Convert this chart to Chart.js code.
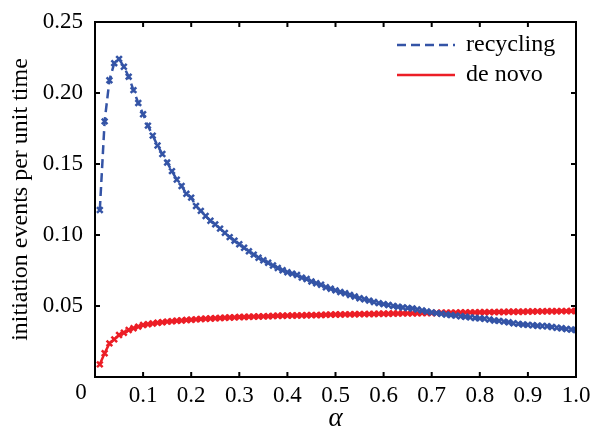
<!DOCTYPE html>
<html>
<head>
<meta charset="utf-8">
<script src="https://cdn.jsdelivr.net/npm/chart.js@4"></script>
<style>
  html, body { margin: 0; padding: 0; background: #fff; }
  #wrap { width: 593px; height: 432px; }
</style>
</head>
<body>
<div id="wrap"><canvas id="myChart" width="593" height="432"></canvas></div>
<script>
// alpha values (x axis)
const alphas = [
  0.01, 0.02, 0.03, 0.04, 0.05, 0.06, 0.07, 0.08, 0.09, 0.10,
  0.11, 0.12, 0.13, 0.14, 0.15, 0.16, 0.17, 0.18, 0.19, 0.20,
  0.21, 0.22, 0.23, 0.24, 0.25, 0.26, 0.27, 0.28, 0.29, 0.30,
  0.31, 0.32, 0.33, 0.34, 0.35, 0.36, 0.37, 0.38, 0.39, 0.40,
  0.41, 0.42, 0.43, 0.44, 0.45, 0.46, 0.47, 0.48, 0.49, 0.50,
  0.51, 0.52, 0.53, 0.54, 0.55, 0.56, 0.57, 0.58, 0.59, 0.60,
  0.61, 0.62, 0.63, 0.64, 0.65, 0.66, 0.67, 0.68, 0.69, 0.70,
  0.71, 0.72, 0.73, 0.74, 0.75, 0.76, 0.77, 0.78, 0.79, 0.80,
  0.81, 0.82, 0.83, 0.84, 0.85, 0.86, 0.87, 0.88, 0.89, 0.90,
  0.91, 0.92, 0.93, 0.94, 0.95, 0.96, 0.97, 0.98, 0.99, 1.00
];

const recycling = [
  0.1176, 0.1800, 0.2090, 0.2210, 0.2240, 0.2185, 0.2115, 0.2020, 0.1930, 0.1850,
  0.1770, 0.1700, 0.1630, 0.1570, 0.1510, 0.1450, 0.1390, 0.1345, 0.1290, 0.1263,
  0.1204, 0.1170, 0.1134, 0.1100, 0.1075, 0.1045, 0.1015, 0.0985, 0.0960, 0.0935,
  0.0910, 0.0885, 0.0862, 0.0840, 0.0822, 0.0805, 0.0785, 0.0768, 0.0752, 0.0738,
  0.0728, 0.0718, 0.0700, 0.0690, 0.0673, 0.0660, 0.0650, 0.0632, 0.0622, 0.0610,
  0.0598, 0.0590, 0.0578, 0.0567, 0.0555, 0.0547, 0.0538, 0.0528, 0.0520, 0.0513,
  0.0507, 0.0500, 0.0495, 0.0490, 0.0486, 0.0483, 0.0475, 0.0468, 0.0461, 0.0455,
  0.0450, 0.0445, 0.0440, 0.0436, 0.0432, 0.0428, 0.0424, 0.0420, 0.0416, 0.0413,
  0.0410, 0.0405, 0.0398, 0.0395, 0.0390, 0.0385, 0.0378, 0.0374, 0.0370, 0.0367,
  0.0364, 0.0361, 0.0359, 0.0357, 0.0352, 0.0347, 0.0343, 0.0338, 0.0334, 0.0331
];

const deNovo = [
  0.0089, 0.0167, 0.0237, 0.0265, 0.0296, 0.0312, 0.0331, 0.0343, 0.0355, 0.0366,
  0.0372, 0.0377, 0.0382, 0.0386, 0.0390, 0.0393, 0.0396, 0.0398, 0.0401, 0.0403,
  0.0406, 0.0408, 0.0410, 0.0412, 0.0414, 0.0415, 0.0417, 0.0419, 0.0420, 0.0422,
  0.0422, 0.0424, 0.0425, 0.0426, 0.0427, 0.0428, 0.0430, 0.0431, 0.0431, 0.0432,
  0.0433, 0.0433, 0.0434, 0.0435, 0.0436, 0.0436, 0.0437, 0.0438, 0.0439, 0.0440,
  0.0440, 0.0441, 0.0441, 0.0442, 0.0443, 0.0443, 0.0444, 0.0444, 0.0445, 0.0446,
  0.0446, 0.0447, 0.0447, 0.0448, 0.0448, 0.0449, 0.0449, 0.0450, 0.0450, 0.0451,
  0.0451, 0.0452, 0.0452, 0.0453, 0.0453, 0.0454, 0.0454, 0.0455, 0.0455, 0.0456,
  0.0456, 0.0457, 0.0457, 0.0458, 0.0458, 0.0459, 0.0459, 0.0460, 0.0460, 0.0461,
  0.0461, 0.0462, 0.0462, 0.0463, 0.0463, 0.0463, 0.0464, 0.0464, 0.0465, 0.0465
];

const seriesNames = ["recycling", "de novo"];
const xTicks = [0, 0.1, 0.2, 0.3, 0.4, 0.5, 0.6, 0.7, 0.8, 0.9, 1.0];
const yTicks = [0, 0.05, 0.10, 0.15, 0.20, 0.25];

const BLUE = "rgb(52, 84, 166)";
const RED = "rgb(236, 30, 38)";
const SERIF = "'Liberation Serif', 'DejaVu Serif', serif";

const toPoints = (ys) => alphas.map((a, i) => ({ x: a, y: ys[i] }));

// box frame, inward ticks, the lone "0" label and the legend
const framePlugin = {
  id: "frame",
  afterDraw(chart) {
    const { ctx, chartArea: a, scales } = chart;
    ctx.save();
    ctx.strokeStyle = "#000";
    ctx.lineWidth = 2;
    ctx.strokeRect(a.left, a.top, a.right - a.left, a.bottom - a.top);

    const tl = 5;
    ctx.beginPath();
    xTicks.forEach((v) => {
      const px = scales.x.getPixelForValue(v);
      ctx.moveTo(px, a.bottom); ctx.lineTo(px, a.bottom - tl);
      ctx.moveTo(px, a.top); ctx.lineTo(px, a.top + tl);
    });
    yTicks.forEach((v) => {
      const py = scales.y.getPixelForValue(v);
      ctx.moveTo(a.left, py); ctx.lineTo(a.left + tl, py);
      ctx.moveTo(a.right, py); ctx.lineTo(a.right - tl, py);
    });
    ctx.stroke();

    ctx.fillStyle = "#000";
    ctx.font = "23px " + SERIF;
    ctx.textAlign = "center";
    ctx.textBaseline = "middle";
    ctx.fillText("0", a.left - 14, a.bottom + 16);

    // legend
    const lx = a.right - 179, ly = a.top + 23, gap = 30, len = 58;
    ctx.font = "24px " + SERIF;
    chart.data.datasets.forEach((ds, i) => {
      const y = ly + i * gap;
      ctx.beginPath();
      ctx.strokeStyle = ds.borderColor;
      ctx.lineWidth = 2.5;
      ctx.setLineDash(ds.borderDash || []);
      ctx.moveTo(lx, y); ctx.lineTo(lx + len, y);
      ctx.stroke();
      ctx.setLineDash([]);
      ctx.textAlign = "left";
      ctx.fillText(ds.label, lx + len + 11, y);
    });
    ctx.restore();
  },
};

new Chart(document.getElementById("myChart").getContext("2d"), {
  type: "line",
  data: {
    datasets: [
      {
        label: seriesNames[0],
        data: toPoints(recycling),
        borderColor: BLUE,
        backgroundColor: BLUE,
        borderWidth: 2.5,
        borderDash: [9, 5],
        pointStyle: "crossRot",
        pointRadius: 4,
        pointBorderWidth: 2.5,
        tension: 0,
      },
      {
        label: seriesNames[1],
        data: toPoints(deNovo),
        borderColor: RED,
        backgroundColor: RED,
        borderWidth: 2.5,
        pointStyle: "crossRot",
        pointRadius: 4,
        pointBorderWidth: 2.5,
        tension: 0,
      },
    ],
  },
  options: {
    responsive: false,
    animation: false,
    layout: { padding: { top: 22, right: 17, bottom: 0, left: 0 } },
    plugins: {
      legend: { display: false },
      tooltip: { enabled: false },
    },
    scales: {
      x: {
        type: "linear",
        min: 0,
        max: 1,
        afterFit: (s) => { s.height = 55; s.paddingLeft = 0; s.paddingRight = 0; },
        afterBuildTicks: (s) => { s.ticks = xTicks.map((v) => ({ value: v })); },
        grid: { display: false, drawTicks: false },
        border: { display: false },
        ticks: {
          padding: 5,
          color: "#000",
          font: { family: SERIF, size: 23 },
          maxRotation: 0,
          callback: (v) => (v === 0 ? "" : v.toFixed(1)),
        },
        title: {
          display: true,
          text: "α",
          color: "#000",
          font: { family: SERIF, size: 27, style: "italic", lineHeight: 1 },
          padding: { top: 0, bottom: 0 },
        },
      },
      y: {
        min: 0,
        max: 0.25,
        afterFit: (s) => { s.width = 95; s.paddingTop = 0; s.paddingBottom = 0; },
        afterBuildTicks: (s) => { s.ticks = yTicks.map((v) => ({ value: v })); },
        grid: { display: false, drawTicks: false },
        border: { display: false },
        ticks: {
          padding: 12,
          color: "#000",
          font: { family: SERIF, size: 23 },
          callback: (v) => (v === 0 ? "" : v.toFixed(2)),
        },
        title: {
          display: true,
          text: "initiation events per unit time",
          color: "#000",
          font: { family: SERIF, size: 24, lineHeight: 1.2 },
          padding: { top: 6, bottom: 0 },
        },
      },
    },
  },
  plugins: [framePlugin],
});
</script>
</body>
</html>
